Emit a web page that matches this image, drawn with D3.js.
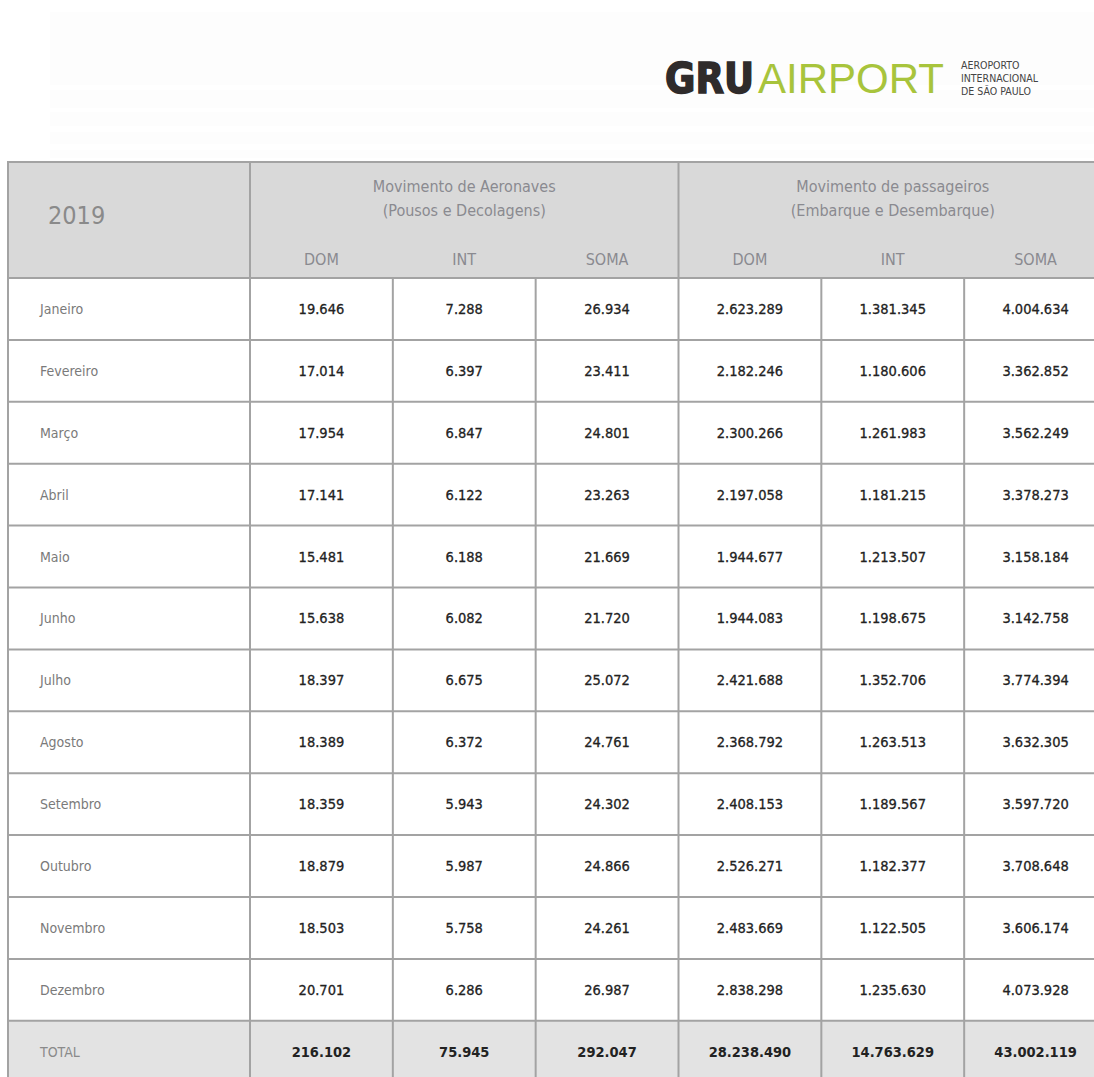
<!DOCTYPE html>
<html>
<head>
<meta charset="utf-8">
<script src="https://cdn.jsdelivr.net/npm/d3@7"></script>
<style>
  html, body { margin: 0; padding: 0; background: #fff; }
  svg { display: block; }
  text { font-stretch: condensed; }
</style>
</head>
<body>
<div id="chart"></div>
<script>
const year = "2019";
const months = ["Janeiro", "Fevereiro", "Março", "Abril", "Maio", "Junho", "Julho",
  "Agosto", "Setembro", "Outubro", "Novembro", "Dezembro"];
const totalLabel = "TOTAL";
const groups = ["Movimento de Aeronaves|(Pousos e Decolagens)",
  "Movimento de passageiros|(Embarque e Desembarque)"];
const subCols = ["DOM", "INT", "SOMA"];

const aeroDom = [19646, 17014, 17954, 17141, 15481, 15638, 18397, 18389, 18359, 18879, 18503, 20701];
const aeroInt = [7288, 6397, 6847, 6122, 6188, 6082, 6675, 6372, 5943, 5987, 5758, 6286];
const aeroSoma = [26934, 23411, 24801, 23263, 21669, 21720, 25072, 24761, 24302, 24866, 24261, 26987];
const paxDom = [2623289, 2182246, 2300266, 2197058, 1944677, 1944083, 2421688, 2368792, 2408153, 2526271, 2483669, 2838298];
const paxInt = [1381345, 1180606, 1261983, 1181215, 1213507, 1198675, 1352706, 1263513, 1189567, 1182377, 1122505, 1235630];
const paxSoma = [4004634, 3362852, 3562249, 3378273, 3158184, 3142758, 3774394, 3632305, 3597720, 3708648, 3606174, 4073928];
const totals = [216102, 75945, 292047, 28238490, 14763629, 43002119];

const W = 1094, H = 1077;
const font = "'DejaVu Sans Condensed', 'DejaVu Sans', sans-serif";
const fmt = d3.formatLocale({ decimal: ",", thousands: ".", grouping: [3], currency: ["", ""] }).format(",d");

const svg = d3.select("#chart").append("svg").attr("width", W).attr("height", H)
  .style("font-family", font);

// very faint background strip behind the logo
const strip = svg.append("g");
[[12, 22], [28, 48], [55, 30], [90, 18], [112, 14], [132, 12], [150, 8]].forEach(([y, h]) => {
  strip.append("rect").attr("x", 50).attr("y", y).attr("width", W - 50).attr("height", h)
    .attr("fill", "#fdfdfd");
});

// logo
const logo = svg.append("g");
logo.append("text").attr("x", 665).attr("y", 93)
  .attr("font-weight", 900).attr("font-size", 42)
  .attr("fill", "#2f2b2b").attr("stroke", "#2f2b2b").attr("stroke-width", 1.6)
  .attr("textLength", 89).attr("lengthAdjust", "spacingAndGlyphs")
  .style("font-stretch", "normal").attr("font-family", "'DejaVu Sans', sans-serif").text("GRU");
logo.append("text").attr("x", 758).attr("y", 93).attr("font-family", "'Liberation Sans', sans-serif")
  .attr("font-weight", 300).attr("font-size", 43).attr("fill", "#a8c43c")
  .attr("textLength", 186).attr("lengthAdjust", "spacingAndGlyphs").text("AIRPORT");
["AEROPORTO", "INTERNACIONAL", "DE SÃO PAULO"].forEach((t, i) => {
  logo.append("text").attr("x", 961).attr("y", 69 + i * 13).attr("font-size", 10.5)
    .attr("fill", "#444").text(t);
});

// table geometry
const left = 8, firstColRight = 250;
const headTop = 162, headBottom = 278;
const x = d3.scaleLinear().domain([0, 6]).range([firstColRight, 1107]);
const rowKeys = months.concat([totalLabel]);
const y = d3.scaleBand().domain(rowKeys).range([headBottom, headBottom + rowKeys.length * 61.9]);

const rows = months.map((m, i) => ({
  label: m,
  values: [aeroDom[i], aeroInt[i], aeroSoma[i], paxDom[i], paxInt[i], paxSoma[i]]
}));
rows.push({ label: totalLabel, values: totals, total: true });

const lineColor = "#a3a3a3";
const headFill = "#d9d9d9";

// header background
svg.append("rect").attr("x", left).attr("y", headTop).attr("width", x(6) - left)
  .attr("height", headBottom - headTop).attr("fill", headFill);
// total row background
svg.append("rect").attr("x", left).attr("y", y(totalLabel)).attr("width", x(6) - left)
  .attr("height", y.bandwidth()).attr("fill", "#e3e3e3");

// header text
svg.append("text").attr("x", 48).attr("y", 224).attr("font-size", 25).attr("fill", "#8a8a8a")
  .text(year);
groups.forEach((g, gi) => {
  const cx = (x(gi * 3) + x(gi * 3 + 3)) / 2;
  g.split("|").forEach((line, li) => {
    svg.append("text").attr("x", cx).attr("y", 192 + li * 24).attr("text-anchor", "middle")
      .attr("font-size", 16).attr("fill", "#8a8a90").text(line);
  });
  subCols.forEach((s, si) => {
    const c = gi * 3 + si;
    svg.append("text").attr("x", (x(c) + x(c + 1)) / 2).attr("y", 265).attr("text-anchor", "middle")
      .attr("font-size", 16).attr("fill", "#8a8a90").text(s);
  });
});

// body rows
const rowG = svg.selectAll("g.row").data(rows).join("g").attr("class", "row")
  .attr("transform", d => `translate(0,${y(d.label)})`);
rowG.append("text").attr("x", 40).attr("y", y.bandwidth() / 2 + 5)
  .attr("font-size", 14).attr("fill", d => d.total ? "#8a8a8a" : "#7a7a7a")
  .text(d => d.label);
rowG.selectAll("text.val").data(d => d.values.map(v => ({ v, total: d.total })))
  .join("text").attr("class", "val")
  .attr("x", (d, i) => (x(i) + x(i + 1)) / 2).attr("y", y.bandwidth() / 2 + 5)
  .attr("text-anchor", "middle").attr("font-size", 14.5)
  .attr("font-weight", d => d.total ? "bold" : "normal")
  .attr("fill", "#222")
  .attr("stroke", d => d.total ? "none" : "#222").attr("stroke-width", 0.3)
  .text(d => fmt(d.v));

// grid lines
const grid = svg.append("g").attr("stroke", lineColor).attr("stroke-width", 2).attr("fill", "none");
// outer frame
grid.append("rect").attr("x", left).attr("y", headTop).attr("width", x(6) - left)
  .attr("height", y.range()[1] - headTop);
// horizontal lines
rowKeys.forEach(k => {
  grid.append("line").attr("x1", left).attr("x2", x(6)).attr("y1", y(k)).attr("y2", y(k));
});
// vertical lines: group separators run full height, inner ones only in body
[0, 3].forEach(c => {
  grid.append("line").attr("x1", x(c)).attr("x2", x(c)).attr("y1", headTop).attr("y2", y.range()[1]);
});
[1, 2, 4, 5].forEach(c => {
  grid.append("line").attr("x1", x(c)).attr("x2", x(c)).attr("y1", headBottom).attr("y2", y.range()[1]);
});
</script>
</body>
</html>
